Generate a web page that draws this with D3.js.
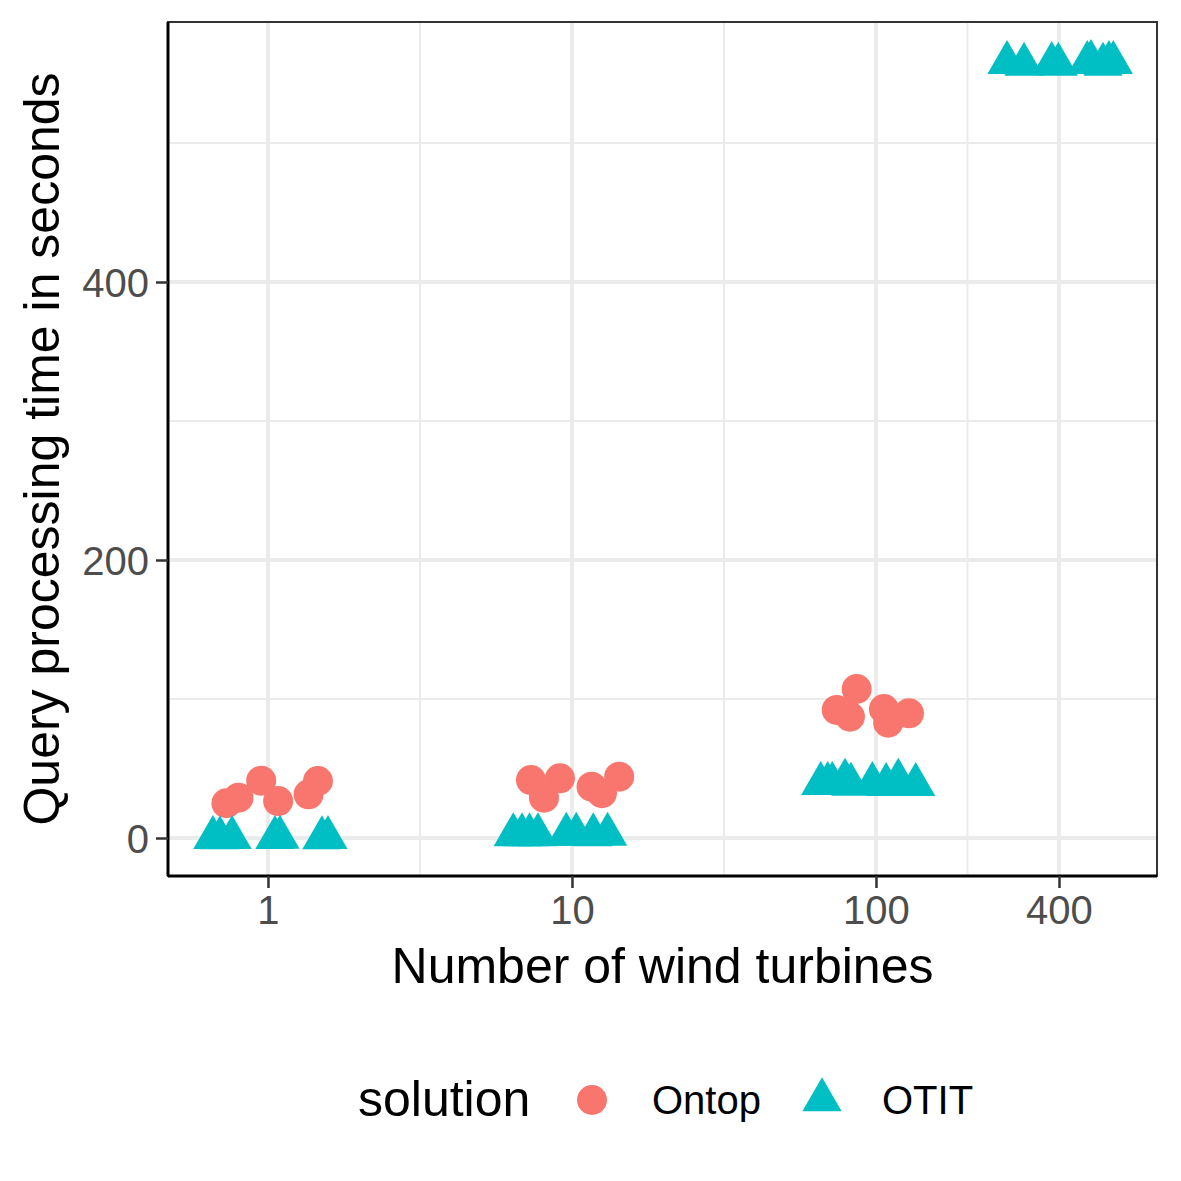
<!DOCTYPE html>
<html><head><meta charset="utf-8">
<script src="https://cdn.jsdelivr.net/npm/d3@7"></script>
<style>body{margin:0;background:#fff}svg{display:block}text{font-family:"Liberation Sans",Arial,sans-serif}</style>
</head><body>
<script>
const xTicks = [1, 10, 100, 400];
const xMinor = [3.1623, 31.623, 200];
const yTicks = [0, 200, 400];
const yMinor = [100, 300, 500];
const seriesNames = ["Ontop", "OTIT"];
const seriesColors = ["#F8766D", "#00BFC4"];

// Ontop (jittered positions)
const ontopN = [0.73, 0.80, 0.95, 1.08, 1.36, 1.46, 7.33, 8.09, 9.13, 11.6, 12.55, 14.3, 74.3, 82.1, 86.4, 106.2, 109.7, 128.4];
const ontopTime = [25.0, 29.0, 41.2, 26.6, 31.4, 41.0, 41.7, 29.0, 42.9, 36.9, 32.2, 44.1, 92.1, 87.3, 107.2, 92.8, 83.0, 89.7];
// OTIT (jittered positions)
const otitN = [0.659, 0.695, 0.762, 1.054, 1.095, 1.505, 1.575,
  6.41, 6.85, 7.25, 7.73, 9.58, 10.33, 11.75, 13.1,
  65.8, 69.4, 71.8, 79.1, 82.7, 97.3, 118.4, 135.1, 108.0,
  269.8, 306.9, 378.4, 398, 495.5, 509.5, 558, 584, 603.5];
const otitTime = [0.3, 0.1, 0.2, 0.2, 0.4, 0.1, 0.3,
  2.3, 2.2, 2.3, 2.2, 2.6, 2.5, 2.2, 2.6,
  39.1, 39.1, 39.1, 41.5, 38.6, 39.1, 41.5, 38.3, 38.3,
  557.8, 556.5, 557.0, 556.5, 557.8, 558.5, 556.5, 557.8, 557.8];

const W = 1181, H = 1181;
const L = 168, R = 1157, T = 22, B = 876;
const svg = d3.select("body").append("svg").attr("width", W).attr("height", H);

const x = d3.scaleLog().domain([0.469, 840.3]).range([L, R]);
const y = d3.scaleLinear().domain([-27.34, 587.05]).range([B, T]);

const g = svg.append("g");
// minor grid
g.selectAll(".xm").data(xMinor).enter().append("line")
  .attr("x1", d => x(d)).attr("x2", d => x(d)).attr("y1", T).attr("y2", B)
  .attr("stroke", "#EBEBEB").attr("stroke-width", 2);
g.selectAll(".ym").data(yMinor).enter().append("line")
  .attr("y1", d => y(d)).attr("y2", d => y(d)).attr("x1", L).attr("x2", R)
  .attr("stroke", "#EBEBEB").attr("stroke-width", 2);
// major grid
g.selectAll(".xM").data(xTicks).enter().append("line")
  .attr("x1", d => x(d)).attr("x2", d => x(d)).attr("y1", T).attr("y2", B)
  .attr("stroke", "#EBEBEB").attr("stroke-width", 3.8);
g.selectAll(".yM").data(yTicks).enter().append("line")
  .attr("y1", d => y(d)).attr("y2", d => y(d)).attr("x1", L).attr("x2", R)
  .attr("stroke", "#EBEBEB").attr("stroke-width", 3.8);

// points
const r = 15, th = 34, ts = th * 2 / Math.sqrt(3);
const triPath = `M0,${-2*th/3}L${ts/2},${th/3}L${-ts/2},${th/3}Z`;
svg.append("g").selectAll("circle").data(d3.range(ontopN.length)).enter().append("circle")
  .attr("cx", i => x(ontopN[i])).attr("cy", i => y(ontopTime[i])).attr("r", r)
  .attr("fill", seriesColors[0]);
svg.append("g").selectAll("path").data(d3.range(otitN.length)).enter().append("path")
  .attr("d", triPath)
  .attr("transform", i => `translate(${x(otitN[i])},${y(otitTime[i])})`)
  .attr("fill", seriesColors[1]);

// panel border
svg.append("rect").attr("x", L).attr("y", T).attr("width", R - L).attr("height", B - T)
  .attr("fill", "none").attr("stroke", "#333333").attr("stroke-width", 2);

// axes
const xAxis = svg.append("g").attr("transform", `translate(0,${B})`)
  .call(d3.axisBottom(x).tickValues(xTicks).tickFormat(d3.format("d")).tickSize(12).tickPadding(8));
const yAxis = svg.append("g").attr("transform", `translate(${L},0)`)
  .call(d3.axisLeft(y).tickValues(yTicks).tickFormat(d3.format("d")).tickSize(12).tickPadding(7));
[xAxis, yAxis].forEach(a => {
  a.select(".domain").attr("stroke", "#000").attr("stroke-width", 3);
  a.selectAll(".tick line").attr("stroke", "#333333").attr("stroke-width", 2.5);
  a.selectAll(".tick text").attr("fill", "#4D4D4D").attr("font-size", 40)
    .attr("font-family", "Liberation Sans, Arial, sans-serif");
});
xAxis.select(".domain").attr("d", `M${L},0H${R}`);
yAxis.select(".domain").attr("d", `M0,${T}V${B}`);
yAxis.selectAll(".tick text").attr("dy", "0.36em");

// titles
svg.append("text").attr("x", (L + R) / 2).attr("y", 983).attr("text-anchor", "middle")
  .attr("font-size", 50).attr("fill", "#000").text("Number of wind turbines");
svg.append("text").attr("transform", `translate(59,${(T + B) / 2}) rotate(-90)`)
  .attr("text-anchor", "middle").attr("font-size", 50).attr("fill", "#000")
  .text("Query processing time in seconds");

// legend
const lg = svg.append("g");
lg.append("text").attr("x", 358).attr("y", 1116).attr("font-size", 50).text("solution");
lg.append("circle").attr("cx", 592).attr("cy", 1100).attr("r", r).attr("fill", seriesColors[0]);
lg.append("text").attr("x", 652).attr("y", 1114).attr("font-size", 40).text(seriesNames[0]);
lg.append("path").attr("d", triPath).attr("transform", "translate(822,1100)").attr("fill", seriesColors[1]);
lg.append("text").attr("x", 882).attr("y", 1114).attr("font-size", 40).text(seriesNames[1]);
</script>
</body></html>
